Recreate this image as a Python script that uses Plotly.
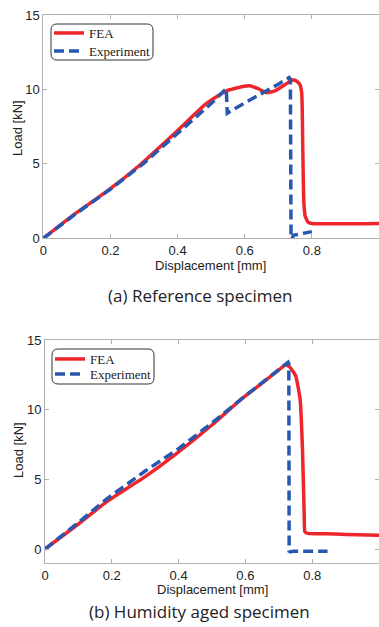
import plotly.graph_objects as go

W, H = 379, 627

# ---- data: (a) Reference specimen ----
a_fea_x = [0, 0.089, 0.188, 0.287, 0.398, 0.485, 0.544, 0.594, 0.615, 0.64, 0.665, 0.69, 0.715,
           0.735, 0.745, 0.755, 0.765, 0.770, 0.773, 0.776, 0.780, 0.788, 0.80, 1.0]
a_fea_y = [0, 1.56, 3.13, 4.91, 7.19, 9.04, 9.89, 10.2, 10.25, 10.05, 9.78, 9.9, 10.25,
           10.55, 10.63, 10.55, 10.3, 9.7, 6.0, 2.5, 1.5, 1.1, 1.0, 1.0]
a_exp_x = [0, 0.1, 0.2, 0.3, 0.4, 0.5, 0.545, 0.548, 0.60, 0.65, 0.70, 0.732, 0.736, 0.738,
           0.740, 0.745, 0.80]
a_exp_y = [0, 1.7, 3.3, 5.05, 7.05, 9.05, 10.05, 8.4, 9.1, 9.7, 10.35, 10.8, 10.7, 0.0,
           -0.1, 0.2, 0.45]

# ---- data: (b) Humidity aged specimen ----
b_fea_x = [0, 0.1, 0.185, 0.3, 0.385, 0.5, 0.586, 0.65, 0.70, 0.721, 0.735, 0.751, 0.764,
           0.771, 0.776, 0.778, 0.786, 0.84, 0.9, 1.0]
b_fea_y = [0, 1.8, 3.4, 5.2, 6.69, 8.9, 10.72, 11.9, 12.85, 13.24, 13.0, 12.4, 10.7,
           7.1, 2.5, 1.25, 1.13, 1.1, 1.05, 1.0]
b_exp_x = [0, 0.1, 0.185, 0.3, 0.4, 0.5, 0.6, 0.7, 0.728, 0.730, 0.731, 0.735, 0.745, 0.846]
b_exp_y = [0, 1.9, 3.6, 5.6, 7.2, 9.05, 11.0, 12.9, 13.4, 13.3, -0.15, -0.2, -0.15, -0.15]

x_ticks = [0, 0.2, 0.4, 0.6, 0.8, 1]
x_tick_text = ["0", "0.2", "0.4", "0.6", "0.8", "1"]
y_ticks = [0, 5, 10, 15]
y_tick_text = ["0", "5", "10", "15"]

RED = "#ee262c"
BLUE = "#2757b0"

def px(x):
    return x / W

def py(y):
    return 1 - y / H

fea_line = dict(color=RED, width=3.5, shape="spline", smoothing=0.4)
exp_line = dict(color=BLUE, width=3.5, dash="10px,5px")

fig = go.Figure()
fig.add_trace(go.Scatter(x=a_fea_x, y=a_fea_y, mode="lines", name="FEA", line=fea_line,
                         xaxis="x", yaxis="y", legend="legend"))
fig.add_trace(go.Scatter(x=a_exp_x, y=a_exp_y, mode="lines", name="Experiment", line=exp_line,
                         xaxis="x", yaxis="y", legend="legend2"))
fig.add_trace(go.Scatter(x=b_fea_x, y=b_fea_y, mode="lines", name="FEA", line=fea_line,
                         xaxis="x2", yaxis="y2", legend="legend3"))
fig.add_trace(go.Scatter(x=b_exp_x, y=b_exp_y, mode="lines", name="Experiment", line=exp_line,
                         xaxis="x2", yaxis="y2", legend="legend4"))

tickfont = dict(family="Liberation Sans, Arial", size=13, color="#222")
axis_common = dict(showgrid=False, zeroline=False, showline=True, linecolor="#b0b0b0",
                   linewidth=1, mirror="ticks", ticks="inside", ticklen=4,
                   tickcolor="#b0b0b0", tickfont=tickfont, automargin=False)

legend_font = dict(family="Liberation Serif, Times New Roman", size=13, color="#222")

def leg(xp, yp):
    return dict(x=px(xp), y=py(yp), xanchor="left", yanchor="middle",
                bgcolor="rgba(0,0,0,0)", borderwidth=0, font=legend_font,
                itemwidth=30, tracegroupgap=0)

fig.update_layout(
    template="none",
    width=W, height=H,
    margin=dict(l=0, r=0, t=0, b=0, autoexpand=False),
    paper_bgcolor="white", plot_bgcolor="white",
    xaxis=dict(domain=[px(43.3), 1.0], range=[0, 1], tickvals=x_ticks, ticktext=x_tick_text,
               anchor="y", **axis_common),
    yaxis=dict(domain=[py(238.3), py(15)], range=[0, 15], tickvals=y_ticks, ticktext=y_tick_text,
               anchor="x", **axis_common),
    xaxis2=dict(domain=[px(45), 1.0], range=[0, 1], tickvals=x_ticks, ticktext=x_tick_text,
                anchor="y2", **axis_common),
    yaxis2=dict(domain=[py(563), py(340)], range=[-1, 15], tickvals=y_ticks, ticktext=y_tick_text,
                anchor="x2", **axis_common),
    legend=leg(49, 33),
    legend2=leg(49, 51),
    legend3=leg(50, 359),
    legend4=leg(50, 374),
    showlegend=True,
)

def rounded_box(x0, y0, x1, y1, r=6):
    rx, ry = r / W, r / H
    X0, X1 = px(x0), px(x1)
    Y0, Y1 = py(y0), py(y1)  # Y0 top (larger), Y1 bottom
    return (f"M{X0+rx},{Y0} L{X1-rx},{Y0} Q{X1},{Y0} {X1},{Y0-ry} "
            f"L{X1},{Y1+ry} Q{X1},{Y1} {X1-rx},{Y1} "
            f"L{X0+rx},{Y1} Q{X0},{Y1} {X0},{Y1+ry} "
            f"L{X0},{Y0-ry} Q{X0},{Y0} {X0+rx},{Y0} Z")

for box in [(51, 24, 153, 60), (52, 349, 154, 384)]:
    fig.add_shape(type="path", path=rounded_box(*box), xref="paper", yref="paper",
                  line=dict(color="#333", width=1), fillcolor="white", layer="above")

lab_font = dict(family="Liberation Sans, Arial", size=13, color="#222")
cap_font = dict(family="Open Sans, Noto Sans", size=17, color="#222")

ann = [
    dict(text="Displacement [mm]", x=px(210), y=py(265), font=lab_font),
    dict(text="Displacement [mm]", x=px(212), y=py(589), font=lab_font),
    dict(text="Load [kN]", x=px(17), y=py(128), font=lab_font, textangle=-90),
    dict(text="Load [kN]", x=px(18), y=py(450), font=lab_font, textangle=-90),
    dict(text="(a) Reference specimen", x=px(200), y=py(295), font=cap_font),
    dict(text="(b) Humidity aged specimen", x=px(199), y=py(611), font=cap_font),
]
for a in ann:
    fig.add_annotation(xref="paper", yref="paper", showarrow=False,
                       xanchor="center", yanchor="middle", **a)

fig.write_html("out.html", config={"displayModeBar": False},
               post_script="document.body.style.margin='0';")
